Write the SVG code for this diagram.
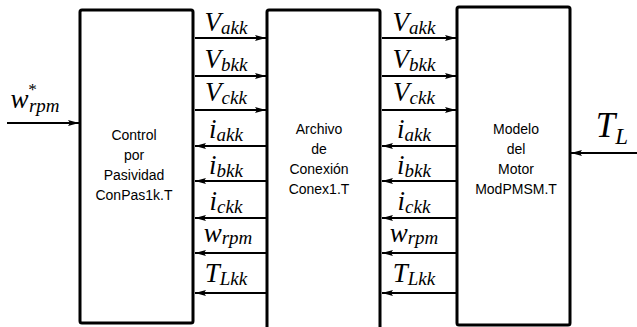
<svg xmlns="http://www.w3.org/2000/svg" width="637" height="327" viewBox="0 0 637 327">
<defs>
<style>
.blk{fill:#fff;stroke:#000;stroke-width:3}
.lbl{font-family:"Liberation Sans",Arial,sans-serif;font-size:14px;fill:#000;text-anchor:middle}
.m{font-family:"Liberation Serif","Times New Roman",serif;font-style:italic;font-size:27px;fill:#000;text-anchor:middle}
.s{font-size:19px}
.c{fill:none;stroke:#000;stroke-width:2}
</style>
<marker id="ah" markerUnits="userSpaceOnUse" markerWidth="12" markerHeight="8" refX="11" refY="4" orient="auto">
<path d="M0,1 L11,4 L0,7 L2,4 z" fill="#000"/>
</marker>
</defs>
<rect width="637" height="327" fill="#fff"/>
<g id="control">
<rect class="blk" x="80" y="10" width="113" height="313" rx="2"/>
<text class="lbl" x="134" y="140">Control</text>
<text class="lbl" x="134" y="160">por</text>
<text class="lbl" x="134" y="180">Pasividad</text>
<text class="lbl" x="134" y="200">ConPas1k.T</text>
</g>
<g id="conexion">
<rect class="blk" x="267" y="10" width="113" height="330" rx="2"/>
<text class="lbl" x="319" y="134">Archivo</text>
<text class="lbl" x="319" y="154">de</text>
<text class="lbl" x="319" y="174">Conexión</text>
<text class="lbl" x="319" y="194">Conex1.T</text>
</g>
<g id="motor">
<rect class="blk" x="457" y="7" width="113" height="318" rx="2"/>
<text class="lbl" x="516" y="134">Modelo</text>
<text class="lbl" x="516" y="154">del</text>
<text class="lbl" x="516" y="174">Motor</text>
<text class="lbl" x="516" y="194">ModPMSM.T</text>
</g>
<g id="connectors">
<path class="c" marker-end="url(#ah)" d="M7,123 H79"/>
<path class="c" marker-end="url(#ah)" d="M637,153 H571"/>
<path class="c" marker-end="url(#ah)" d="M195,38 H266"/>
<path class="c" marker-end="url(#ah)" d="M195,76 H266"/>
<path class="c" marker-end="url(#ah)" d="M195,110 H266"/>
<path class="c" marker-end="url(#ah)" d="M266,146 H195"/>
<path class="c" marker-end="url(#ah)" d="M266,181 H195"/>
<path class="c" marker-end="url(#ah)" d="M266,218 H195"/>
<path class="c" marker-end="url(#ah)" d="M266,253 H195"/>
<path class="c" marker-end="url(#ah)" d="M266,293 H195"/>
<path class="c" marker-end="url(#ah)" d="M382,38 H456"/>
<path class="c" marker-end="url(#ah)" d="M382,76 H456"/>
<path class="c" marker-end="url(#ah)" d="M382,110 H456"/>
<path class="c" marker-end="url(#ah)" d="M456,146 H382"/>
<path class="c" marker-end="url(#ah)" d="M456,181 H382"/>
<path class="c" marker-end="url(#ah)" d="M456,218 H382"/>
<path class="c" marker-end="url(#ah)" d="M456,253 H382"/>
<path class="c" marker-end="url(#ah)" d="M456,293 H382"/>
</g>
<g id="labels">
<text class="m" x="35" y="108">w<tspan class="s" style="font-size:17px" dx="-1" dy="-13">*</tspan><tspan class="s" dx="-7" dy="17">rpm</tspan></text>
<text class="m" x="612" y="137" style="font-size:35px">T<tspan class="s" style="font-size:23px" dy="7">L</tspan></text>
<text class="m" x="226" y="31">V<tspan class="s" dy="3">akk</tspan></text>
<text class="m" x="226" y="68">V<tspan class="s" dy="3">bkk</tspan></text>
<text class="m" x="226" y="101">V<tspan class="s" dy="3">ckk</tspan></text>
<text class="m" x="226" y="138">i<tspan class="s" dy="3">akk</tspan></text>
<text class="m" x="226" y="174">i<tspan class="s" dy="3">bkk</tspan></text>
<text class="m" x="226" y="210">i<tspan class="s" dy="3">ckk</tspan></text>
<text class="m" x="228" y="242">w<tspan class="s" dy="2">rpm</tspan></text>
<text class="m" x="226" y="282">T<tspan class="s" dy="3">Lkk</tspan></text>
<text class="m" x="414" y="31">V<tspan class="s" dy="3">akk</tspan></text>
<text class="m" x="414" y="68">V<tspan class="s" dy="3">bkk</tspan></text>
<text class="m" x="414" y="101">V<tspan class="s" dy="3">ckk</tspan></text>
<text class="m" x="414" y="138">i<tspan class="s" dy="3">akk</tspan></text>
<text class="m" x="414" y="174">i<tspan class="s" dy="3">bkk</tspan></text>
<text class="m" x="414" y="210">i<tspan class="s" dy="3">ckk</tspan></text>
<text class="m" x="414" y="242">w<tspan class="s" dy="2">rpm</tspan></text>
<text class="m" x="414" y="282">T<tspan class="s" dy="3">Lkk</tspan></text>
</g>
</svg>
